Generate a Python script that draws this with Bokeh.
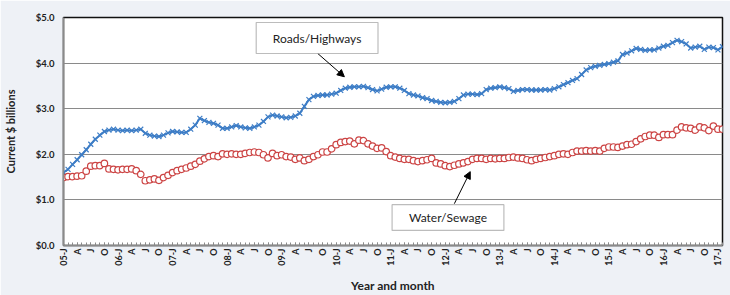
from bokeh.plotting import figure
from bokeh.models import FixedTicker, Range1d, BoxAnnotation, Label, Arrow, NormalHead, AllLabels
from bokeh.embed import file_html
from bokeh.resources import INLINE
import math

# Monthly values, Jan 2005 .. Feb 2017 (current $ billions)
roads = [
    1.60, 1.67, 1.78, 1.88, 1.99, 2.10, 2.22, 2.33, 2.42, 2.50, 2.53, 2.55,
    2.53, 2.52, 2.53, 2.52, 2.53, 2.55, 2.46, 2.42, 2.40, 2.39, 2.42, 2.47,
    2.50, 2.49, 2.48, 2.48, 2.55, 2.64, 2.79, 2.74, 2.70, 2.68, 2.64, 2.57,
    2.57, 2.60, 2.63, 2.60, 2.58, 2.57, 2.60, 2.64, 2.72, 2.82, 2.86, 2.84,
    2.82, 2.80, 2.81, 2.84, 2.90, 3.05, 3.20, 3.27, 3.29, 3.30, 3.30, 3.32,
    3.34, 3.40, 3.45, 3.47, 3.48, 3.48, 3.49, 3.46, 3.42, 3.39, 3.43, 3.47,
    3.48, 3.48, 3.45, 3.40, 3.33, 3.30, 3.28, 3.24, 3.22, 3.18, 3.16, 3.14,
    3.13, 3.14, 3.16, 3.22, 3.30, 3.32, 3.32, 3.31, 3.33, 3.42, 3.45, 3.46,
    3.48, 3.46, 3.44, 3.38, 3.40, 3.42, 3.42, 3.41, 3.41, 3.41, 3.42, 3.41,
    3.44, 3.48, 3.53, 3.57, 3.62, 3.66, 3.75, 3.85, 3.90, 3.93, 3.95, 3.97,
    3.99, 4.02, 4.05, 4.19, 4.22, 4.27, 4.32, 4.30, 4.28, 4.29, 4.29, 4.33,
    4.37, 4.39, 4.45, 4.50, 4.47, 4.42, 4.33, 4.35, 4.37, 4.30, 4.35, 4.34,
    4.29, 4.36,
]
water = [
    1.49, 1.51, 1.51, 1.52, 1.53, 1.63, 1.74, 1.75, 1.75, 1.80, 1.68, 1.67,
    1.66, 1.67, 1.67, 1.68, 1.64, 1.56, 1.42, 1.44, 1.46, 1.43, 1.49, 1.54,
    1.60, 1.64, 1.67, 1.70, 1.74, 1.78, 1.85, 1.90, 1.95, 1.97, 1.95, 2.01,
    2.00, 2.01, 2.00, 2.00, 2.02, 2.04, 2.05, 2.04, 1.99, 1.92, 2.02, 1.97,
    1.99, 1.95, 1.94, 1.89, 1.92, 1.86, 1.89, 1.95, 1.99, 2.05, 2.05, 2.12,
    2.21, 2.26, 2.28, 2.29, 2.23, 2.31, 2.30, 2.23, 2.18, 2.13, 2.14, 2.06,
    1.97, 1.94, 1.91, 1.89, 1.89, 1.86, 1.84, 1.86, 1.88, 1.91, 1.81, 1.79,
    1.75, 1.73, 1.76, 1.79, 1.81, 1.84, 1.89, 1.91, 1.91, 1.89, 1.91, 1.90,
    1.91, 1.91, 1.93, 1.94, 1.92, 1.91, 1.88, 1.86, 1.89, 1.91, 1.93, 1.95,
    1.97, 2.00, 2.01, 2.00, 2.04, 2.07, 2.07, 2.08, 2.07, 2.08, 2.07, 2.13,
    2.16, 2.16, 2.15, 2.18, 2.21, 2.22, 2.28, 2.34, 2.39, 2.42, 2.42, 2.37,
    2.43, 2.43, 2.43, 2.53, 2.60, 2.58, 2.57, 2.53, 2.60, 2.58, 2.52, 2.62,
    2.55, 2.55,
]
years = ["05", "06", "07", "08", "09", "10", "11", "12", "13", "14", "15", "16", "17"]
quarters = ["J", "A", "J", "O"]
last_label = "Feb"
y_ticks = [0, 1, 2, 3, 4, 5]
series_names = ["Roads/Highways", "Water/Sewage"]

n = len(roads)
months = list(range(n))

# tick labels
tick_pos = []
tick_lab = {}
for yi, yr in enumerate(years):
    for qi, q in enumerate(quarters):
        m = yi * 12 + qi * 3
        if m < n - 1:
            tick_pos.append(m)
            tick_lab[m] = (yr + "-" + q) if qi == 0 else q

BG = "#EEF1F6"
BLUE = "#3D7DC6"
RED = "#CC4444"
GRID = "#8A8A8A"
FONT = "Lato"

p = figure(width=730, height=295, output_backend="svg", toolbar_location=None,
           x_range=Range1d(0, n - 1), y_range=Range1d(0, 5),
           min_border_left=62, min_border_right=8, min_border_top=17, min_border_bottom=49)
p.border_fill_color = BG
p.background_fill_color = "white"
p.outline_line_color = "#111111"
p.outline_line_width = 1.5

# axes
p.xaxis.ticker = FixedTicker(ticks=tick_pos, minor_ticks=months)
p.xaxis.major_label_overrides = tick_lab
p.xaxis.major_label_policy = AllLabels()
p.xaxis.major_label_orientation = math.pi / 2
p.xaxis.major_tick_in = 3
p.xaxis.major_tick_out = 0
p.xaxis.minor_tick_in = 3
p.xaxis.minor_tick_out = 0
p.xaxis.major_tick_line_color = GRID
p.xaxis.minor_tick_line_color = GRID
p.xaxis.axis_line_color = GRID
p.xaxis.axis_line_width = 1.5
p.xaxis.major_label_standoff = 3
p.xaxis.major_label_text_font = FONT
p.xaxis.major_label_text_font_style = "bold"
p.xaxis.major_label_text_font_size = "9px"
p.xaxis.major_label_text_color = "#222222"
p.xaxis.axis_label = "Year and month"
p.xaxis.axis_label_text_font = FONT
p.xaxis.axis_label_text_font_style = "bold"
p.xaxis.axis_label_text_font_size = "12px"
p.xaxis.axis_label_text_color = "#222222"
p.xaxis.axis_label_standoff = 9

p.yaxis.ticker = FixedTicker(ticks=y_ticks)
p.yaxis.major_label_overrides = {t: "$%.1f" % t for t in y_ticks}
p.yaxis.major_tick_in = 0
p.yaxis.major_tick_out = 0
p.yaxis.minor_tick_line_color = None
p.yaxis.axis_line_color = GRID
p.yaxis.axis_line_width = 1.5
p.yaxis.major_label_standoff = 9
p.yaxis.major_label_text_font = FONT
p.yaxis.major_label_text_font_style = "bold"
p.yaxis.major_label_text_font_size = "9.5px"
p.yaxis.major_label_text_color = "#222222"
p.yaxis.axis_label = "Current $ billions"
p.yaxis.axis_label_text_font = FONT
p.yaxis.axis_label_text_font_style = "bold"
p.yaxis.axis_label_text_font_size = "11px"
p.yaxis.axis_label_text_color = "#222222"
p.yaxis.axis_label_standoff = 16

p.xgrid.grid_line_color = None
p.ygrid.ticker = FixedTicker(ticks=y_ticks)
p.ygrid.grid_line_color = GRID
p.ygrid.grid_line_width = 1.2

# data
p.line(months, roads, line_color=BLUE, line_width=2)
p.scatter(months, roads, marker="x", size=7, line_color=BLUE, line_width=1.2)
p.scatter(months, water, marker="circle", size=6.5, fill_color="white",
          line_color=RED, line_width=1.2)

# "Feb" label past the last major tick
p.add_layout(Label(x=n - 1, y=0, x_offset=3, y_offset=-4, text=last_label,
                   angle=math.pi / 2, text_align="right", text_baseline="middle",
                   text_font=FONT, text_font_size="7.5px", text_font_style="bold",
                   text_color="#222222"))

# callout boxes
p.add_layout(BoxAnnotation(left=42.4, right=69.2, bottom=4.21, top=4.89,
                           fill_color="white", fill_alpha=1, line_color="#222222",
                           line_width=1.2, level="overlay"))
p.add_layout(Label(x=55.8, y=4.55, text=series_names[0], text_align="center",
                   text_baseline="middle", text_font=FONT, text_font_size="12px",
                   text_color="#222222", level="overlay"))
p.add_layout(Arrow(end=NormalHead(size=7, fill_color="black", line_color="black"),
                   x_start=55.95, y_start=4.21, x_end=61.8, y_end=3.70,
                   line_color="black", line_width=1))

p.add_layout(BoxAnnotation(left=72.3, right=96.9, bottom=0.33, top=0.895,
                           fill_color="white", fill_alpha=1, line_color="#222222",
                           line_width=1.2, level="overlay"))
p.add_layout(Label(x=84.6, y=0.61, text=series_names[1], text_align="center",
                   text_baseline="middle", text_font=FONT, text_font_size="12px",
                   text_color="#222222", level="overlay"))
p.add_layout(Arrow(end=NormalHead(size=7, fill_color="black", line_color="black"),
                   x_start=86.0, y_start=0.917, x_end=89.5, y_end=1.62,
                   line_color="black", line_width=1))

open("out.html", "w").write(file_html(p, INLINE))
